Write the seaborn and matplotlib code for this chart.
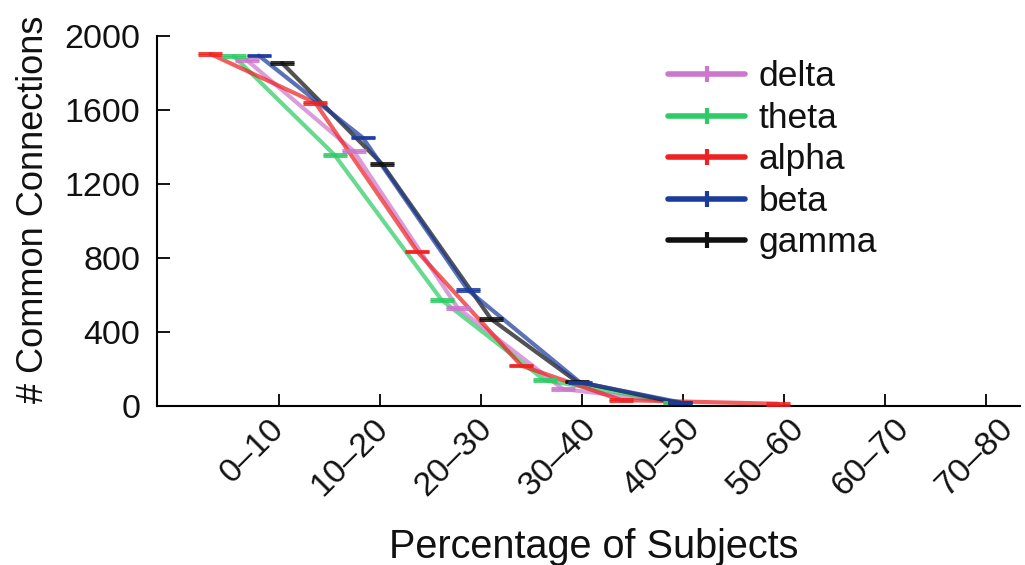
import matplotlib
matplotlib.use("Agg")
import matplotlib.pyplot as plt
import matplotlib.transforms as mtransforms
from matplotlib.lines import Line2D
import seaborn as sns
import pandas as pd
import numpy as np

# ---- data ----
bins = ["0–10", "10–20", "20–30", "30–40", "40–50", "50–60", "60–70", "70–80"]
bands = ["delta", "theta", "alpha", "beta", "gamma"]

# x positions (in bin units, 0 = "0–10") and values
delta_x = [-0.32, 0.74, 1.77, 2.81, 3.92]
delta_y = [1870, 1378, 530, 92, 20]
theta_x = [-0.45, 0.55, 1.61, 2.63, 3.92]
theta_y = [1892, 1357, 573, 140, 20]
alpha_x = [-0.68, 0.36, 1.37, 2.40, 3.39, 4.94]
alpha_y = [1903, 1639, 834, 218, 32, 12]
beta_x = [-0.20, 0.83, 1.87, 2.98, 3.97]
beta_y = [1894, 1450, 627, 128, 20]
gamma_x = [0.03, 1.02, 2.10, 2.95, 3.97]
gamma_y = [1854, 1308, 470, 132, 15]

colors = {"delta": "#cc77cc", "theta": "#2ecc66", "alpha": "#ee2222",
          "beta": "#1c3c9c", "gamma": "#111111"}

series = {"delta": (delta_x, delta_y), "theta": (theta_x, theta_y),
          "alpha": (alpha_x, alpha_y), "beta": (beta_x, beta_y),
          "gamma": (gamma_x, gamma_y)}

rows = []
for b in bands:
    xs, ys = series[b]
    for i, (x, y) in enumerate(zip(xs, ys)):
        rows.append({"band": b, "x": x, "y": y, "order": i})
df = pd.DataFrame(rows)

sns.set_style("white")
plt.rcParams["font.family"] = ["Liberation Sans", "DejaVu Sans"]

fig = plt.figure(figsize=(10.25, 5.65), dpi=100)
ax = fig.add_axes([0.1532, 0.2814, 0.8418, 0.6549])

draw_order = ["delta", "theta", "alpha", "gamma", "beta"]
for b in draw_order:
    sub = df[df["band"] == b]
    sns.lineplot(data=sub, x="x", y="y", color=colors[b], lw=3.0, alpha=0.72,
                 sort=False, ax=ax, legend=False, zorder=3)
    ax.errorbar(sub["x"], sub["y"], yerr=np.full(len(sub), 4.0), fmt="none",
                ecolor=colors[b], elinewidth=2, capsize=8.5, capthick=2.2,
                alpha=0.85, zorder=4)

ax.set_xlim(-1.208, 7.337)
ax.set_ylim(0, 2000)
ax.set_xticks(range(len(bins)))
ax.set_xticklabels(bins, rotation=45, ha="right", va="top", rotation_mode="anchor")
ax.set_yticks([0, 400, 800, 1200, 1600, 2000])

for s in ["top", "right"]:
    ax.spines[s].set_visible(False)
for s in ["left", "bottom"]:
    ax.spines[s].set_color("black")
    ax.spines[s].set_linewidth(1.5)

ax.tick_params(axis="both", which="major", bottom=True, left=True,
               direction="in", length=9, width=1.3, color="black",
               labelsize=24.5, labelcolor="#111111")
ax.tick_params(axis="x", pad=5)
ax.tick_params(axis="y", pad=12)

for i, lab in enumerate(ax.get_xticklabels()):
    shift = mtransforms.ScaledTranslation((-8 + 2.3 * i) / 72, 0, fig.dpi_scale_trans)
    lab.set_transform(lab.get_transform() + shift)

ax.set_xlabel("Percentage of Subjects", fontsize=28.5, color="#111111")
ax.xaxis.label.set_va("baseline")
ax.xaxis.set_label_coords(0.506, -0.411)
ax.set_ylabel("# Common Connections", fontsize=26, color="#111111")
ax.yaxis.label.set_va("baseline")
ax.yaxis.set_label_coords(-0.132, 0.532)

handles = [Line2D([0], [0], color=colors[b], lw=4, marker="|", markersize=12,
                  markeredgewidth=3) for b in bands]
leg = fig.legend(handles, bands, loc="upper left", bbox_to_anchor=(0.652, 0.893),
                 frameon=False, fontsize=25.5, handlelength=2.17, handletextpad=0.37,
                 labelspacing=0.24, borderpad=0, borderaxespad=0)
for t in leg.get_texts():
    t.set_color("#111111")

fig.savefig("out.png", dpi=100)
